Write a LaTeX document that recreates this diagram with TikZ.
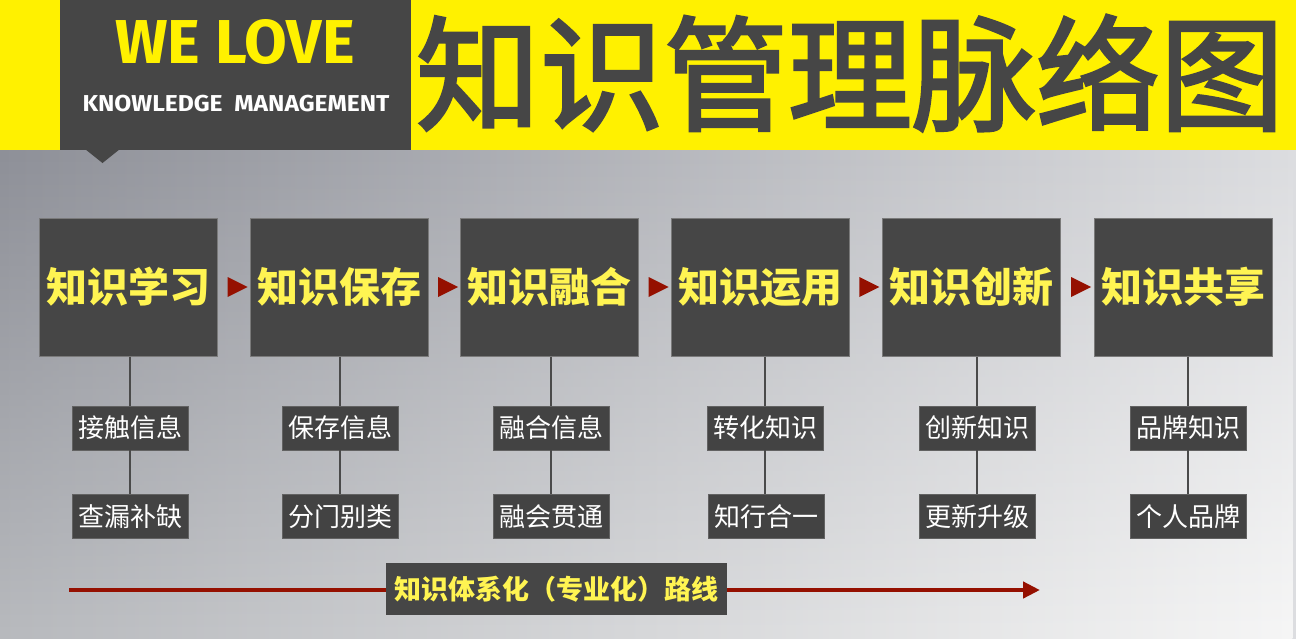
\documentclass[tikz,border=0pt]{standalone}
\usepackage{fontspec}
\usetikzlibrary{arrows.meta,shapes.geometric,fadings}
\newfontfamily\cjk{Noto Sans CJK SC}
\newfontfamily\cjktitle{Noto Sans CJK SC}[FakeBold=2.5]
\newfontfamily\latin{Fira Sans}
\definecolor{hdryellow}{HTML}{FFF100}
\definecolor{darkfill}{HTML}{464646}
\definecolor{lblfill}{HTML}{434343}
\definecolor{boxborder}{HTML}{7A7A7A}
\definecolor{txtyellow}{HTML}{FFF452}
\definecolor{arrowred}{HTML}{951000}
\definecolor{bgTL}{HTML}{8E9098}
\definecolor{bgTR}{HTML}{DCDDE0}
\definecolor{bgBL}{HTML}{B8BABE}
\definecolor{bgBR}{HTML}{F6F6F6}
\definecolor{connline}{HTML}{4A4A4A}
\begin{document}
\begin{tikzpicture}[x=1pt,y=-1pt,
  mainbox/.style={draw=boxborder,line width=1pt,fill=darkfill,minimum width=178pt,minimum height=138pt,inner sep=0pt,
    text=txtyellow,font=\cjk\bfseries\fontsize{41}{41}\selectfont},
  lbl/.style={draw=boxborder!80!black,line width=0.8pt,fill=lblfill,minimum width=116pt,minimum height=44pt,inner sep=0pt,
    text=white,font=\cjk\fontsize{26}{26}\selectfont},
  tri/.style={isosceles triangle,isosceles triangle stretches,fill=arrowred,inner sep=0pt,
    minimum width=20pt,minimum height=20pt},
  conn/.style={draw=connline,line width=1.4pt},
  route/.style={draw=arrowred,line width=4.7pt,-{Triangle[length=17pt,width=16pt]}}]
\useasboundingbox (0,0) rectangle (1296,638);
% background
\shade[left color=bgTL,right color=bgTR] (0,150) rectangle (1296,638);
\shade[left color=bgBL,right color=bgBR,path fading=north] (0,150) rectangle (1296,638);
\fill[hdryellow] (0,0) rectangle (1296,150);
\fill[darkfill] (60,0) rectangle (411,150);
\fill[darkfill] (85,149) -- (120,149) -- (102.5,163) -- cycle;
% header texts
\node[anchor=base,text=hdryellow,font=\latin\bfseries\fontsize{62}{62}\selectfont,inner sep=0pt] (we) at (235,63) {WE LOVE};
\node[anchor=base,text=white,font=\latin\bfseries\fontsize{23}{23}\selectfont,inner sep=0pt] (km) at (236,111) {\scalebox{1.07}[1]{KNOWLEDGE\ \ MANAGEMENT}};
\node[text=darkfill,font=\cjktitle\fontsize{124}{124}\selectfont,inner sep=0pt] (title) at (850,73) {知识管理脉络图};
% main boxes
\node[mainbox] (b1) at (128.5,287) {知识学习};
\node[mainbox] (b2) at (339,287) {知识保存};
\node[mainbox] (b3) at (549.5,287) {知识融合};
\node[mainbox] (b4) at (760,287) {知识运用};
\node[mainbox] (b5) at (971,287) {知识创新};
\node[mainbox] (b6) at (1183.5,287) {知识共享};
% arrow triangles
\path (b1) -- node[tri] (t1) {} (b2);
\path (b2) -- node[tri] (t2) {} (b3);
\path (b3) -- node[tri] (t3) {} (b4);
\path (b4) -- node[tri] (t4) {} (b5);
\path (b5) -- node[tri] (t5) {} (b6);
% labels
\node[lbl] (l1a) at (130,428) {接触信息};
\node[lbl] (l1b) at (130,516.5) {查漏补缺};
\node[lbl] (l2a) at (340,428) {保存信息};
\node[lbl] (l2b) at (340,516.5) {分门别类};
\node[lbl] (l3a) at (551,428) {融合信息};
\node[lbl] (l3b) at (551,516.5) {融会贯通};
\node[lbl] (l4a) at (765,428) {转化知识};
\node[lbl] (l4b) at (766,516.5) {知行合一};
\node[lbl] (l5a) at (977,428) {创新知识};
\node[lbl] (l5b) at (977,516.5) {更新升级};
\node[lbl] (l6a) at (1188,428) {品牌知识};
\node[lbl] (l6b) at (1188,516.5) {个人品牌};
% connectors
\foreach \i in {1,...,6}{
  \draw[conn] (l\i a.north |- b\i.south) -- (l\i a.north);
  \draw[conn] (l\i a.south) -- (l\i a.south |- l\i b.north);
}
% route arrow
\coordinate (rs) at (69,590);
\coordinate (re) at (1040,590);
\draw[route] (rs) -- (re);
\node[fill=darkfill,minimum width=341pt,minimum height=52pt,inner sep=0pt,text=txtyellow,
  font=\cjk\bfseries\fontsize{27}{27}\selectfont] (rl) at (556.5,589) {知识体系化（专业化）路线};
\end{tikzpicture}
\end{document}
